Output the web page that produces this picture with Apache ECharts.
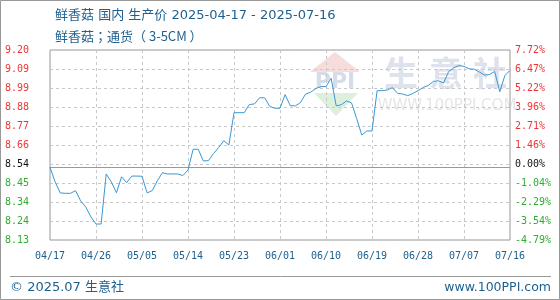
<!DOCTYPE html>
<html><head><meta charset="utf-8">
<script src="https://cdn.jsdelivr.net/npm/echarts@6/dist/echarts.min.js"></script>
<style>html,body{margin:0;padding:0;background:#fff}#c{width:560px;height:300px}</style>
</head><body><div id="c"></div>
<script>
const titleText = '鲜香菇 国内 生产价 2025-04-17 - 2025-07-16';
const subtitleText = '鲜香菇；通货（ 3-5CM ）';
const startDate = '2025-04-17';
const prices = [
  8.540, 8.457, 8.395, 8.393, 8.393, 8.408, 8.350, 8.316, 8.260, 8.220,
  8.220, 8.502, 8.457, 8.396, 8.486, 8.453, 8.490, 8.490, 8.489, 8.395,
  8.408, 8.464, 8.509, 8.502, 8.502, 8.502, 8.493, 8.524, 8.641, 8.641,
  8.575, 8.577, 8.617, 8.651, 8.689, 8.665, 8.847, 8.847, 8.847, 8.893,
  8.896, 8.931, 8.931, 8.882, 8.872, 8.872, 8.949, 8.887, 8.885, 8.904,
  8.952, 8.962, 8.983, 8.994, 8.994, 9.041, 8.885, 8.892, 8.913, 8.902,
  8.814, 8.721, 8.744, 8.744, 8.971, 8.971, 8.975, 8.988, 8.956, 8.952,
  8.943, 8.955, 8.971, 8.989, 9.000, 9.023, 9.027, 9.014, 9.079, 9.100,
  9.112, 9.108, 9.094, 9.092, 9.076, 9.059, 9.062, 9.079, 8.965, 9.056,
  9.085
];
const baseValue = 8.54;
const yMin = 8.13;
const yMax = 9.20;
const leftTickLabels = ['8.13','8.24','8.34','8.45','8.54','8.66','8.77','8.88','8.99','9.09','9.20'];
const rightTickLabels = ['-4.79%','-3.54%','-2.29%','-1.04%','0.00%','1.46%','2.71%','3.96%','5.22%','6.47%','7.72%'];
const footerLeft = '© 2025.07 生意社';
const footerRight = 'www.100PPI.com';

// date categories
const dates = [];
(function(){
  const d0 = new Date(startDate + 'T00:00:00Z');
  for (let i = 0; i < prices.length; i++) {
    const d = new Date(d0.getTime() + i * 86400000);
    const mm = String(d.getUTCMonth() + 1).padStart(2, '0');
    const dd = String(d.getUTCDate()).padStart(2, '0');
    dates.push(mm + '/' + dd);
  }
})();

const RED = '#f03434', GREEN = '#2fae2f', BLACK = '#111', BLUE = '#1d5f8e';
const MONO = '"DejaVu Sans Mono", "Liberation Mono", monospace';
function signColor(v) { return v > 0 ? RED : (v < 0 ? GREEN : BLACK); }

const chart = echarts.init(document.getElementById('c'), null, {renderer: 'canvas'});
chart.setOption({
  animation: false,
  backgroundColor: '#fff',
  title: [
    {text: titleText, left: 50, top: 4, textStyle: {fontSize: 13, fontWeight: 'normal', color: BLUE, fontFamily: '"DejaVu Sans", "Noto Sans CJK SC", sans-serif'}},
    {text: subtitleText, left: 50, top: 25, textStyle: {fontSize: 13, fontWeight: 'normal', color: BLUE, fontFamily: '"Noto Sans CJK JP", sans-serif'}}
  ],
  grid: {left: 50, right: 50, top: 50, bottom: 60, show: true, borderColor: '#999', borderWidth: 1, backgroundColor: 'transparent'},
  xAxis: {
    type: 'category', data: dates, boundaryGap: false,
    axisLine: {show: false}, axisTick: {show: false},
    axisLabel: {interval: 8, color: BLUE, fontFamily: MONO, fontSize: 10, margin: 11},
    splitLine: {show: true, interval: 8, lineStyle: {color: '#c8c8c8', type: [3, 3]}}
  },
  yAxis: [
    {type: 'value', min: yMin, max: yMax, show: false},
    {type: 'category', data: leftTickLabels, boundaryGap: false, position: 'left',
      axisLine: {show: false}, axisTick: {show: false},
      axisLabel: {interval: 0, margin: 45, align: 'left', fontFamily: MONO, fontSize: 10,
        color: (v) => signColor(parseFloat(v) - baseValue)},
      splitLine: {show: true, interval: 0, lineStyle: {color: '#c8c8c8', type: [3, 3]}}
    },
    {type: 'category', data: rightTickLabels, boundaryGap: false, position: 'right',
      axisLine: {show: false}, axisTick: {show: false},
      axisLabel: {interval: 0, margin: 5, align: 'left', fontFamily: MONO, fontSize: 10,
        color: (v) => signColor(parseFloat(v))},
      splitLine: {show: false}
    }
  ],
  graphic: [
    {type: 'rect', z: 100, shape: {x: 0.5, y: 0.5, width: 559, height: 299}, style: {fill: 'none', stroke: '#999', lineWidth: 1}},
    {type: 'line', shape: {x1: 10, y1: 276.5, x2: 551, y2: 276.5}, style: {stroke: '#999', lineWidth: 1}},
    {type: 'text', x: 10, y: 288, style: {text: footerLeft, fill: BLUE, font: '13px "DejaVu Sans", "Noto Sans CJK SC", sans-serif', textVerticalAlign: 'middle'}},
    {type: 'text', x: 551, y: 288, style: {text: footerRight, fill: BLUE, font: '12.5px "DejaVu Sans", sans-serif', textAlign: 'right', textVerticalAlign: 'middle'}},
    // watermark
    {type: 'polygon', z: -1, shape: {points: [[335, 52], [310, 72], [360, 72]]}, style: {fill: '#f7dcdc'}},
    {type: 'polygon', z: -1, shape: {points: [[314, 93], [358, 93], [336, 116]]}, style: {fill: '#ddf0dd'}},
    {type: 'text', z: -1, x: 335, y: 82, style: {text: 'PPI', fill: '#d6dde8', font: 'bold 22px "DejaVu Sans", sans-serif', textAlign: 'center', textVerticalAlign: 'middle'}},
    {type: 'text', z: -1, x: 401, y: 73, style: {text: '生', fill: '#dde2ec', font: 'bold 34px "Noto Sans CJK SC", sans-serif', textAlign: 'center', textVerticalAlign: 'middle'}},
    {type: 'text', z: -1, x: 446, y: 73, style: {text: '意', fill: '#dde2ec', font: 'bold 34px "Noto Sans CJK SC", sans-serif', textAlign: 'center', textVerticalAlign: 'middle'}},
    {type: 'text', z: -1, x: 490, y: 73, style: {text: '社', fill: '#dde2ec', font: 'bold 34px "Noto Sans CJK SC", sans-serif', textAlign: 'center', textVerticalAlign: 'middle'}},
    {type: 'text', z: -1, x: 447, y: 106, style: {text: 'WWW.100PPI.COM', fill: '#e6e6e6', font: '15px "DejaVu Sans", sans-serif', textAlign: 'center', textVerticalAlign: 'middle'}}
  ],
  series: [{
    type: 'line', data: prices, yAxisIndex: 0, symbol: 'none', smooth: false, z: 5,
    lineStyle: {color: '#3b97d3', width: 1},
    markLine: {silent: true, symbol: 'none', label: {show: false},
      lineStyle: {color: '#999', type: 'solid', width: 1},
      data: [{yAxis: baseValue}]}
  }]
});
</script></body></html>
